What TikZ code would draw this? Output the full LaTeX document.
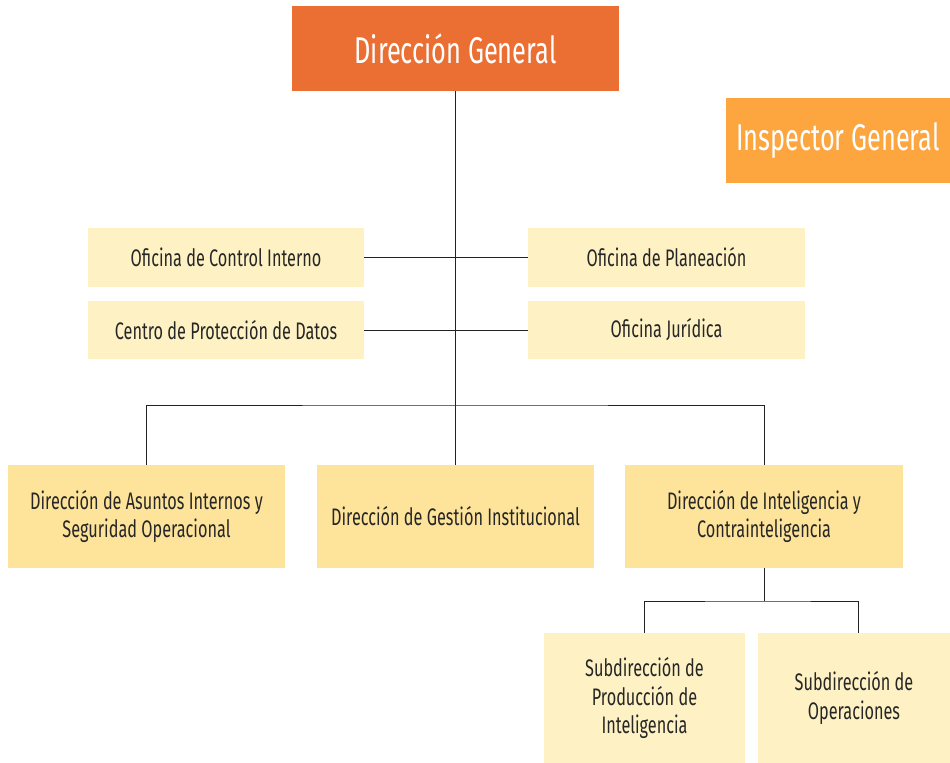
\documentclass[tikz,border=0pt]{standalone}
\usepackage{fontspec}
\setmainfont[FakeStretch=0.68]{Fira Sans}
\usepackage{xcolor}
\usepackage{tikz}
\usetikzlibrary{positioning,calc}

\definecolor{naranja}{HTML}{EB6E32}
\definecolor{naranjaclaro}{HTML}{FDA53F}
\definecolor{crema}{HTML}{FEF2C4}
\definecolor{amarillo}{HTML}{FDE49A}
\definecolor{lineagris}{HTML}{222222}

\begin{document}
\begin{tikzpicture}[
	x=0.025cm, y=-0.025cm,
	% Style cho hộp chính
	jefe/.style={fill=naranja, text=white, inner sep=0pt,
		minimum width=8.175cm, minimum height=2.125cm,
		font=\fontsize{26.5}{30}\selectfont},
	inspector/.style={fill=naranjaclaro, text=white, inner sep=0pt,
		minimum width=5.6cm, minimum height=2.125cm,
		font=\fontsize{26.5}{30}\selectfont},
	% Style cho các oficinas
	oficina/.style={fill=crema, text=black!85, inner sep=0pt,
		minimum width=6.9cm, minimum height=1.47cm,
		font=\fontsize{17}{20}\selectfont},
	% Style cho các direcciones
	direccion/.style={fill=amarillo, text=black!85, inner sep=0pt,
		minimum width=6.925cm, minimum height=2.575cm,
		align=center, font=\fontsize{17}{20.5}\selectfont},
	subdir/.style={fill=crema, text=black!85, inner sep=0pt,
		minimum height=3.25cm,
		align=center, font=\fontsize{17}{20.3}\selectfont},
	link/.style={lineagris, line width=0.7pt}
	]
	\useasboundingbox (0,0) rectangle (950,763);
	
	% --- CẤP TRÊN ---
	\node[jefe] (dg) at (455.5,48.5) {Dirección General};
	\node[inspector] (ig) at (838,140.5) {Inspector General};
	
	% --- OFICINAS ---
	\node[oficina] (oci) at (226,257.5) {Oficina de Control Interno};
	\node[oficina] (cpd) at (226,330) {Centro de Protección de Datos};
	\node[oficina] (opl) at (666.5,257.5) {Oficina de Planeación};
	\node[oficina] (ojur) at (666.5,330) {Oficina Jurídica};
	
	% --- DIRECCIONES ---
	\node[direccion] (asun) at (146.5,516.5) {Dirección de Asuntos Internos y\\Seguridad Operacional};
	\node[direccion] (gest) at (455.5,516.5) {Dirección de Gestión Institucional};
	\node[direccion] (intel) at (764,516.5) {Dirección de Inteligencia y\\Contrainteligencia};
	
	% --- SUBDIRECCIONES ---
	\node[subdir, minimum width=5.025cm] (prod) at (644.5,698) {Subdirección de\\Producción de\\Inteligencia};
	\node[subdir, minimum width=4.8cm] (oper) at (854,698) {Subdirección de\\Operaciones};
	
	% --- ĐƯỜNG NỐI ---
	\coordinate (bus) at (455,405);
	\coordinate (subbus) at (764,601);
	\draw[link] (dg.south) -- (gest.north);
	\draw[link] (oci.east) -- (opl.west);
	\draw[link] (cpd.east) -- (ojur.west);
	\draw[link] (asun.north) |- (bus) -| (intel.north);
	\draw[link] (intel.south) -- (subbus);
	\draw[link] (prod.north) |- (subbus) -| ($(oper.north)+(4,0)$);
	
\end{tikzpicture}
\end{document}
